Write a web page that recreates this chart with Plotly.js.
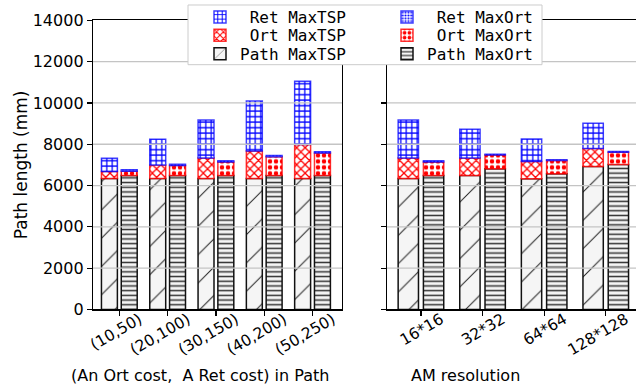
<!DOCTYPE html>
<html><head><meta charset="utf-8">
<script src="https://cdn.plot.ly/plotly-3.0.1.min.js"></script>
<style>html,body{margin:0;padding:0;overflow:hidden;background:#fff}</style>
</head><body><div id="chart" style="width:636px;height:389px"></div>
<script>
// ---- data (mm) ----
const costLabels = ['(10,50)', '(20,100)', '(30,150)', '(40,200)', '(50,250)'];
const resLabels = ['16*16', '32*32', '64*64', '128*128'];

// Left panel: cost settings (segment values of each stack)
const costPathMaxTSP = [6340, 6340, 6340, 6340, 6340];
const costOrtMaxTSP  = [340, 650, 990, 1330, 1650];
const costRetMaxTSP  = [640, 1250, 1850, 2420, 3060];
const costPathMaxOrt = [6490, 6490, 6490, 6490, 6490];
const costOrtMaxOrt  = [200, 480, 650, 900, 1090];
const costRetMaxOrt  = [80, 60, 60, 60, 60];

// Right panel: AM resolution
const resPathMaxTSP = [6340, 6490, 6330, 6920];
const resOrtMaxTSP  = [990, 850, 830, 880];
const resRetMaxTSP  = [1850, 1390, 1090, 1220];
const resPathMaxOrt = [6490, 6810, 6570, 7020];
const resOrtMaxOrt  = [650, 670, 640, 590];
const resRetMaxOrt  = [60, 40, 40, 40];

const yTicks = [0, 2000, 4000, 6000, 8000, 10000, 12000, 14000];

// ---- styles ----
const W = 636, H = 389;
const ST = {
  retTSP:  {name: '\u00a0Ret MaxTSP',  bg: '#ffffff', line: 'rgba(0,0,255,0.75)', shape: '+', fg: '#0000ff', size: 5.5, sol: 0.4,  legend: 'legend'},
  ortTSP:  {name: '\u00a0Ort MaxTSP',  bg: '#ffffff', line: 'rgba(255,0,0,0.8)',  shape: 'x', fg: '#ff0000', size: 6,   sol: 0.38, legend: 'legend2'},
  pathTSP: {name: 'Path MaxTSP',       bg: '#f5f5f5', line: '#111111',            shape: '/', fg: '#222222', size: 20,  sol: 0.05, legend: 'legend3'},
  retOrt:  {name: '\u00a0Ret MaxOrt',  bg: '#ffffff', line: 'rgba(0,0,255,0.75)', shape: '.', fg: '#0000ff', size: 3.5, sol: 0.4,  legend: 'legend4'},
  ortOrt:  {name: '\u00a0Ort MaxOrt',  bg: '#ffffff', line: 'rgba(255,0,0,0.8)',  shape: '.', fg: '#ff0000', size: 6,   sol: 0.45, legend: 'legend5'},
  pathOrt: {name: 'Path MaxOrt',       bg: '#f5f5f5', line: '#111111',            shape: '-', fg: '#333333', size: 4.7, sol: 0.32, legend: 'legend6'}
};
const BAR_W = 0.33;
const OFF_TSP = -0.37, OFF_ORT = 0.04;

function bar(st, xs, ys, base, offset, xa, ya, show) {
  return {
    type: 'bar', x: xs, y: ys, base: base, offset: offset, width: BAR_W,
    xaxis: xa, yaxis: ya, name: st.name, legend: st.legend, showlegend: show,
    marker: {
      color: st.bg, line: {color: st.line, width: 1.5},
      pattern: {shape: st.shape, fgcolor: st.fg, bgcolor: st.bg, size: st.size, solidity: st.sol, fillmode: 'replace'}
    },
    hoverinfo: 'skip'
  };
}
function add(a, b) { return a.map((v, i) => v + b[i]); }

function panel(labels, pT, oT, rT, pO, oO, rO, xa, ya, show) {
  const xs = labels.map((_, i) => i);
  const zeros = xs.map(() => 0);
  return [
    bar(ST.pathTSP, xs, pT, zeros, OFF_TSP, xa, ya, show),
    bar(ST.ortTSP, xs, oT, pT, OFF_TSP, xa, ya, show),
    bar(ST.retTSP, xs, rT, add(pT, oT), OFF_TSP, xa, ya, show),
    bar(ST.pathOrt, xs, pO, zeros, OFF_ORT, xa, ya, show),
    bar(ST.ortOrt, xs, oO, pO, OFF_ORT, xa, ya, show),
    bar(ST.retOrt, xs, rO, add(pO, oO), OFF_ORT, xa, ya, show)
  ];
}

const traces = [].concat(
  panel(costLabels, costPathMaxTSP, costOrtMaxTSP, costRetMaxTSP, costPathMaxOrt, costOrtMaxOrt, costRetMaxOrt, 'x', 'y', true),
  panel(resLabels, resPathMaxTSP, resOrtMaxTSP, resRetMaxTSP, resPathMaxOrt, resOrtMaxOrt, resRetMaxOrt, 'x2', 'y2', false)
);

const yDom = [1 - 309 / H, 1 - 18.5 / H];
const tickFont = {family: 'DejaVu Sans', size: 15.5, color: '#000'};
const axisCommon = {showline: true, linecolor: '#000', linewidth: 1.2, ticks: 'outside', ticklen: 5, tickwidth: 1.2, tickcolor: '#000', showgrid: false, zeroline: false};

const shapes = [];
yTicks.filter(v => v > 0 && v < 14000).forEach(v => {
  ['x domain', 'x2 domain'].forEach((xr, k) => {
    shapes.push({type: 'line', xref: xr, yref: k ? 'y2' : 'y', x0: 0, x1: 1, y0: v, y1: v, layer: 'above', line: {color: '#c4c4c4', width: 1.3}});
  });
});
shapes.push({type: 'rect', xref: 'paper', yref: 'paper', x0: 188 / W, x1: 542 / W, y0: 1 - 63 / H, y1: 1 - 3 / H, layer: 'above', fillcolor: '#ffffff', line: {color: '#cccccc', width: 1}});

function leg(xpx, ypx) {
  return {x: xpx / W, y: 1 - ypx / H, xanchor: 'left', yanchor: 'middle', bgcolor: 'rgba(0,0,0,0)', borderwidth: 0,
          font: {family: 'DejaVu Sans Mono', size: 16, color: '#000'}};
}

const layout = {
  width: W, height: H, margin: {l: 0, r: 0, t: 0, b: 0},
  paper_bgcolor: '#fff', plot_bgcolor: '#fff', barmode: 'overlay',
  xaxis: Object.assign({}, axisCommon, {domain: [93 / W, 342 / W], range: [-0.545, 4.61], anchor: 'y', mirror: true,
    tickvals: costLabels.map((_, i) => i), ticktext: costLabels, tickangle: -30, tickfont: tickFont, ticklabelshift: 20, ticklabelstandoff: -11}),
  yaxis: Object.assign({}, axisCommon, {domain: yDom, range: [0, 14000], anchor: 'x', mirror: true, tickvals: yTicks, tickformat: 'd',
    tickfont: {family: 'DejaVu Sans', size: 16, color: '#000'},
    title: {text: 'Path length (mm)', font: {family: 'DejaVu Sans', size: 17, color: '#000'}}}),
  xaxis2: Object.assign({}, axisCommon, {domain: [387 / W, 1], range: [-0.551, 3.491], anchor: 'y2', mirror: true,
    tickvals: resLabels.map((_, i) => i), ticktext: resLabels, tickangle: -30, tickfont: tickFont, ticklabelshift: 20, ticklabelstandoff: -11}),
  yaxis2: Object.assign({}, axisCommon, {domain: yDom, range: [0, 14000], anchor: 'x2', mirror: false, tickvals: yTicks, showticklabels: false}),
  shapes: shapes,
  annotations: [
    {text: '(An Ort cost,\u00a0\u00a0A Ret cost) in Path', xref: 'paper', yref: 'paper', x: 200 / W, y: 1 - 375 / H, xanchor: 'center', yanchor: 'middle', showarrow: false, font: {family: 'DejaVu Sans', size: 16, color: '#000'}},
    {text: 'AM resolution', xref: 'paper', yref: 'paper', x: 466 / W, y: 1 - 375 / H, xanchor: 'center', yanchor: 'middle', showarrow: false, font: {family: 'DejaVu Sans', size: 16, color: '#000'}}
  ],
  legend: leg(200, 15), legend2: leg(200, 33.5), legend3: leg(200, 52),
  legend4: leg(387, 15), legend5: leg(387, 33.5), legend6: leg(387, 52),
  showlegend: true
};

Plotly.newPlot('chart', traces, layout, {displayModeBar: false, staticPlot: true});
</script></body></html>
